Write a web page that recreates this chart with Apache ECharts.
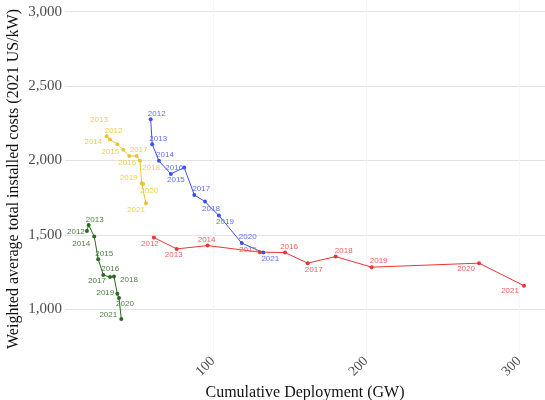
<!DOCTYPE html>
<html>
<head>
<meta charset="utf-8">
<script src="https://cdn.jsdelivr.net/npm/echarts@6/dist/echarts.min.js"></script>
<style>
  html, body { margin: 0; padding: 0; background: #fff; }
  #chart { width: 545px; height: 400px; }
</style>
</head>
<body>
<div id="chart"></div>
<script>
// years shown next to every point
var years = ["2012", "2013", "2014", "2015", "2016", "2017", "2018", "2019", "2020", "2021"];

// cumulative deployment (GW) and installed cost (2021 USD/kW)
var greenDeploy = [17.6, 18.8, 22.4, 25.0, 28.3, 32.7, 35.3, 37.5, 38.6, 40.1];
var greenCost = [1526, 1565, 1488, 1336, 1230, 1215, 1219, 1103, 1074, 933];

var yellowDeploy = [30.5, 32.7, 37.5, 41.4, 45.3, 50.1, 52.3, 53.4, 54.4, 56.2];
var yellowCost = [2163, 2140, 2109, 2071, 2030, 2030, 1997, 1847, 1842, 1712];

var blueDeploy = [59.3, 60.3, 64.7, 72.5, 81.2, 87.8, 94.8, 103.9, 118.8, 132.9];
var blueCost = [2277, 2109, 1997, 1909, 1952, 1768, 1723, 1629, 1444, 1380];

var redDeploy = [61.4, 76.3, 96.5, 130.7, 147.1, 161.9, 180.2, 203.7, 273.9, 303.3];
var redCost = [1481, 1405, 1427, 1383, 1380, 1309, 1353, 1282, 1309, 1157];

var xTicks = [100, 200, 300];
var yTicks = [1000, 1500, 2000, 2500, 3000];

// label nudges (px), like the repelled labels of the original
var greenOffsets = [[-11, 1], [6, -5], [-13, 7], [6, -5], [7, -6], [-13, 4], [15, 3], [-12, -1], [6, 6], [-13, -4]];
var yellowOffsets = [[7, -5], [-11, -20], [-24, -2], [-13, 2], [-2, 7], [2, -6], [11, 7], [-13, -5], [6, 7], [-10, 7]];
var blueOffsets = [[6, -5], [6, -5], [6, -6], [5, 6], [-10, 0], [7, -6], [6, 7], [6, 6], [6, -6], [7, 6]];
var redOffsets = [[-4, 6], [-3, 6], [-1, -6], [-12, -2], [4, -6], [6, 7], [8, -6], [7, -6], [-13, 6], [-14, 5]];

var SYMBOL = 4;

function makeSeries(name, xs, ys, offs, color, labelColor) {
  return {
    name: name,
    type: "line",
    data: xs.map(function (x, i) {
      return {
        value: [x, ys[i], years[i]],
        // position relative to the symbol box, so centre + nudge
        label: { position: [SYMBOL / 2 + offs[i][0], SYMBOL / 2 + offs[i][1]] },
      };
    }),
    symbol: "circle",
    symbolSize: SYMBOL,
    lineStyle: { color: color, width: 1 },
    itemStyle: { color: color },
    label: {
      show: true,
      align: "center",
      verticalAlign: "middle",
      formatter: function (p) {
        return p.value[2];
      },
      fontFamily: "Liberation Sans",
      fontSize: 8,
      color: labelColor,
    },
    labelLayout: { hideOverlap: false },
    emphasis: { disabled: true },
    z: 3,
  };
}

var chart = echarts.init(document.getElementById("chart"));
chart.setOption({
  animation: false,
  grid: { left: 65, right: 0, top: 0, bottom: 42, outerBoundsMode: "none", containLabel: false },
  xAxis: {
    type: "value",
    min: 3.3,
    max: 317,
    name: "Cumulative Deployment (GW)",
    nameLocation: "middle",
    nameGap: 27,
    nameMoveOverlap: false,
    nameTextStyle: { fontFamily: "Liberation Serif", fontSize: 16, color: "#111" },
    axisLine: { show: false },
    axisTick: { show: false, customValues: xTicks },
    axisLabel: {
      customValues: xTicks,
      rotate: 45,
      margin: 1,
      fontFamily: "Liberation Serif",
      fontSize: 14,
      color: "#4d4d4d",
    },
    splitLine: { show: true, lineStyle: { color: "#f6f6f6", width: 1 } },
  },
  yAxis: {
    type: "value",
    min: 671,
    max: 3079,
    name: "Weighted average total installed costs (2021 US/kW)",
    nameLocation: "middle",
    nameGap: 43,
    nameMoveOverlap: false,
    nameTextStyle: { fontFamily: "Liberation Serif", fontSize: 16, color: "#111" },
    axisLine: { show: false },
    axisTick: { show: false, customValues: yTicks },
    axisLabel: {
      customValues: yTicks,
      margin: 3,
      fontFamily: "Liberation Serif",
      fontSize: 15,
      color: "#4d4d4d",
      formatter: function (v) {
        return v.toLocaleString("en-US");
      },
    },
    splitLine: { show: true, lineStyle: { color: "#e3e3e3", width: 1 } },
  },
  series: [
    makeSeries("green", greenDeploy, greenCost, greenOffsets, "#2b6a22", "#4e7d46"),
    makeSeries("yellow", yellowDeploy, yellowCost, yellowOffsets, "#e8c62e", "#efcf4a"),
    makeSeries("blue", blueDeploy, blueCost, blueOffsets, "#3a52e6", "#5f74ec"),
    makeSeries("red", redDeploy, redCost, redOffsets, "#e83535", "#ef5f5f"),
  ],
});
</script>
</body>
</html>
